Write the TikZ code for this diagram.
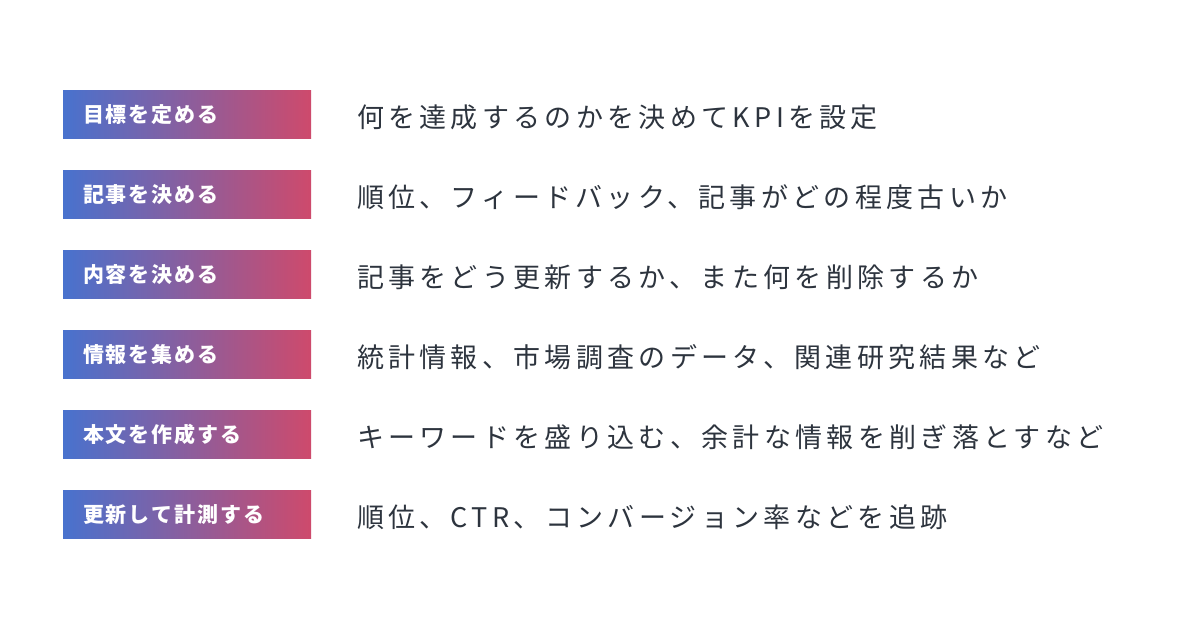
\documentclass[tikz,border=0pt]{standalone}
\usepackage{fontspec}
\usetikzlibrary{positioning}
\newfontfamily\jpfont{Noto Sans CJK JP}[LetterSpace=16]
\newfontfamily\jpboxfont{Noto Sans CJK JP}[LetterSpace=9.5]
\definecolor{gradblue}{RGB}{72,114,206}
\definecolor{gradpink}{RGB}{206,74,108}
\definecolor{bodytext}{RGB}{45,52,62}
\tikzset{
  stepbox/.style={left color=gradblue, right color=gradpink, minimum height=36pt,
    text width=156pt, inner xsep=15pt, inner ysep=0pt, outer sep=0pt, align=left,
    text=white, font=\jpboxfont\bfseries\fontsize{15.75}{15.75}\selectfont},
  steptext/.style={inner sep=0pt, outer sep=0pt, text=bodytext, yshift=-1.5pt,
    font=\jpfont\fontsize{20.25}{20.25}\selectfont}
}
\begin{document}
\begin{tikzpicture}[x=0.75pt,y=-0.75pt] % 1px = 0.75pt, y nach unten
  \useasboundingbox[fill=white] (0,0) rectangle (1200,630);
  % Schritte links
  \node[stepbox, anchor=north west] (goal) at (63,91) {目標を定める};
  \node[stepbox, below=24pt of goal] (article) {記事を決める};
  \node[stepbox, below=24pt of article] (content) {内容を決める};
  \node[stepbox, below=24pt of content] (info) {情報を集める};
  \node[stepbox, below=24pt of info] (body) {本文を作成する};
  \node[stepbox, below=24pt of body] (update) {更新して計測する};
  % Erklaerungen rechts
  \node[steptext, right=34.5pt of goal] (goaltext) {何を達成するのかを決めてKPIを設定};
  \node[steptext, right=34.5pt of article] (articletext) {順位、フィードバック、記事がどの程度古いか};
  \node[steptext, right=34.5pt of content] (contenttext) {記事をどう更新するか、また何を削除するか};
  \node[steptext, right=34.5pt of info] (infotext) {統計情報、市場調査のデータ、関連研究結果など};
  \node[steptext, right=34.5pt of body] (bodytext) {キーワードを盛り込む、余計な情報を削ぎ落とすなど};
  \node[steptext, right=34.5pt of update] (updatetext) {順位、CTR、コンバージョン率などを追跡};
\end{tikzpicture}
\end{document}
